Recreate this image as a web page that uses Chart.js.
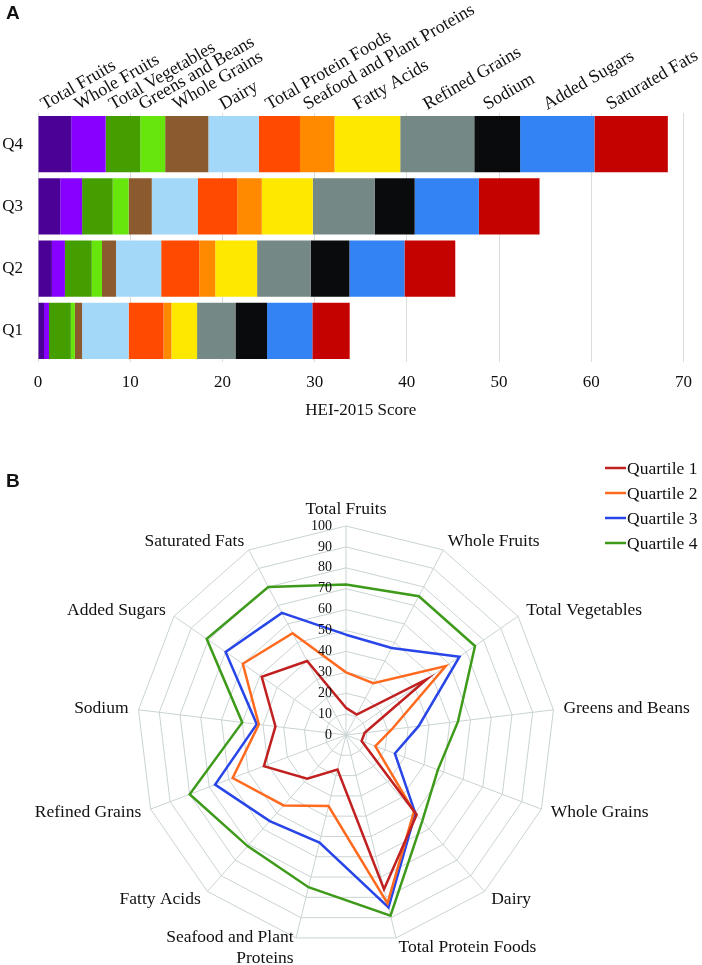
<!DOCTYPE html>
<html lang="en">
<head>
<meta charset="UTF-8" />
<title>HEI-2015 component scores by quartile</title>
<script src="https://cdn.jsdelivr.net/npm/chart.js@4"></script>
<style>
  body { margin: 0; background: #fff; }
  .wrap { position: relative; width: 702px; height: 965px; }
  .panel { position: absolute; left: 0; width: 702px; }
  #barPanel { top: 0; height: 440px; }
  #radarPanel { top: 440px; height: 525px; }
  .tag { position: absolute; left: 6px; font: bold 19px "Liberation Sans", Arial, sans-serif; color: #111; }
</style>
</head>
<body>
<div class="wrap">
  <div class="panel" id="barPanel"><canvas id="barChart"></canvas></div>
  <div class="panel" id="radarPanel"><canvas id="radarChart"></canvas></div>
  <div class="tag" style="top:2px">A</div>
  <div class="tag" style="top:470px">B</div>
</div>

<script>
// ---- panel A: HEI-2015 component scores (rows Q4, Q3, Q2, Q1) ----
const quartiles = ["Q4", "Q3", "Q2", "Q1"];
const xTicks = [0, 10, 20, 30, 40, 50, 60, 70];

const totalFruits      = [3.60, 2.41, 1.51, 0.65];
const wholeFruits      = [3.74, 2.37, 1.41, 0.54];
const totalVegetables  = [3.75, 3.32, 2.91, 2.37];
const greensAndBeans   = [2.70, 1.73, 1.11, 0.44];
const wholeGrains      = [4.68, 2.51, 1.52, 0.78];
const dairy            = [5.48, 5.01, 4.90, 5.05];
const totalProtein     = [4.46, 4.25, 4.13, 3.78];
const seafoodPlant     = [3.74, 2.67, 1.73, 0.86];
const fattyAcids       = [7.13, 5.53, 4.54, 2.78];
const refinedGrains    = [8.03, 6.70, 5.80, 4.16];
const sodium           = [4.97, 4.35, 4.21, 3.43];
const addedSugars      = [8.06, 6.96, 5.97, 4.91];
const saturatedFats    = [7.96, 6.58, 5.51, 4.05];

const components = [
  ["Total Fruits", totalFruits, "#4b0096"],
  ["Whole Fruits", wholeFruits, "#8800ff"],
  ["Total Vegetables", totalVegetables, "#449e00"],
  ["Greens and Beans", greensAndBeans, "#66e60c"],
  ["Whole Grains", wholeGrains, "#8b5a2e"],
  ["Dairy", dairy, "#a3d8f8"],
  ["Total Protein Foods", totalProtein, "#ff4a00"],
  ["Seafood and Plant Proteins", seafoodPlant, "#ff8a00"],
  ["Fatty Acids", fattyAcids, "#ffe800"],
  ["Refined Grains", refinedGrains, "#748886"],
  ["Sodium", sodium, "#0a0b0d"],
  ["Added Sugars", addedSugars, "#3383f5"],
  ["Saturated Fats", saturatedFats, "#c40200"],
];

// ---- panel B: percent of maximum score per component ----
const radarAxes = [
  "Total Fruits", "Whole Fruits", "Total Vegetables", "Greens and Beans",
  "Whole Grains", "Dairy", "Total Protein Foods", ["Seafood and Plant", "Proteins"],
  "Fatty Acids", "Refined Grains", "Sodium", "Added Sugars", "Saturated Fats",
];
const quartile1 = [13, 11, 47, 9, 8, 51, 76, 17, 28, 42, 34, 49, 40];
const quartile2 = [30, 28, 58, 22, 15, 49, 83, 35, 45, 58, 42, 60, 55];
const quartile3 = [48, 47, 66, 35, 25, 50, 85, 53, 55, 67, 43, 70, 66];
const quartile4 = [72, 75, 75, 54, 47, 55, 89, 75, 71, 80, 50, 81, 80];

const SERIF = '"Liberation Serif", "Times New Roman", serif';
const INK = "#111";
Chart.defaults.font.family = SERIF;
Chart.defaults.color = INK;
Chart.defaults.animation = false;

// component names written slanted above the Q4 bar
const segmentLabels = {
  id: "segmentLabels",
  afterDatasetsDraw(chart) {
    const ctx = chart.ctx;
    const top = chart.chartArea.top;
    const slant = Math.PI / 6;
    ctx.save();
    ctx.font = "18px " + SERIF;
    ctx.fillStyle = INK;
    ctx.textAlign = "left";
    ctx.textBaseline = "alphabetic";
    chart.data.datasets.forEach((ds, i) => {
      const bar = chart.getDatasetMeta(i).data[0];
      const mid = (bar.x + bar.base) / 2;
      // keep the slanted text inside the canvas
      const run = ctx.measureText(ds.label).width * Math.cos(slant);
      const x = Math.min(mid - 10, chart.width - run - 3);
      ctx.save();
      ctx.translate(x, top - 3);
      ctx.rotate(-slant);
      ctx.fillText(ds.label, 0, 0);
      ctx.restore();
    });
    ctx.restore();
  },
};

new Chart(document.getElementById("barChart"), {
  type: "bar",
  data: {
    labels: quartiles,
    datasets: components.map(([label, data, color]) => ({
      label,
      data,
      backgroundColor: color,
      borderWidth: 0,
    })),
  },
  options: {
    indexAxis: "y",
    responsive: true,
    maintainAspectRatio: false,
    layout: { padding: { top: 113, right: 16, left: 0, bottom: 0 } },
    categoryPercentage: 1,
    barPercentage: 0.9,
    plugins: { legend: { display: false }, tooltip: { enabled: false } },
    scales: {
      x: {
        stacked: true,
        min: 0,
        max: 70,
        afterBuildTicks: (s) => { s.ticks = xTicks.map((v) => ({ value: v })); },
        afterFit: (s) => { s.height = 78; },
        grid: { color: "#dcdcdc", drawTicks: false },
        border: { display: false },
        ticks: { font: { size: 17 }, padding: 10 },
        title: {
          display: true,
          text: "HEI-2015 Score",
          font: { size: 17 },
          padding: { top: 0, bottom: 19 },
        },
      },
      y: {
        stacked: true,
        afterFit: (s) => { s.width = 38; },
        grid: { display: false, drawTicks: false },
        border: { display: false },
        ticks: { font: { size: 17 }, padding: 15 },
      },
    },
  },
  plugins: [segmentLabels],
});

// axis names, ring values and legend for the radar
const radarText = {
  id: "radarText",
  afterDraw(chart) {
    const r = chart.scales.r;
    const ctx = chart.ctx;
    ctx.save();
    ctx.fillStyle = INK;

    ctx.font = "17.5px " + SERIF;
    const lh = 21;
    radarAxes.forEach((label, i) => {
      const p = r.getPointPosition(i, r.drawingArea + 10);
      const s = Math.sin(r.getIndexAngle(i));
      const lines = [].concat(label);
      if (Math.abs(s) < 0.01) {
        ctx.textAlign = "center";
        ctx.textBaseline = "alphabetic";
        lines.forEach((t, k) => ctx.fillText(t, p.x, p.y - 2 - (lines.length - 1 - k) * lh));
      } else {
        ctx.textAlign = s > 0 ? "left" : "right";
        ctx.textBaseline = "middle";
        const y0 = p.y - ((lines.length - 1) * lh) / 2;
        lines.forEach((t, k) => ctx.fillText(t, p.x, y0 + k * lh));
      }
    });

    ctx.font = "14px " + SERIF;
    ctx.textAlign = "right";
    ctx.textBaseline = "middle";
    r.ticks.forEach((t) => {
      const y = r.yCenter - r.getDistanceFromCenterForValue(t.value);
      ctx.fillText(String(t.value), r.xCenter - 14, y);
    });

    ctx.font = "17.5px " + SERIF;
    ctx.textAlign = "left";
    chart.data.datasets.forEach((ds, k) => {
      const y = 28 + k * 25;
      ctx.strokeStyle = ds.borderColor;
      ctx.lineWidth = 2.5;
      ctx.beginPath();
      ctx.moveTo(605, y);
      ctx.lineTo(626, y);
      ctx.stroke();
      ctx.fillText(ds.label, 627, y + 1);
    });
    ctx.restore();
  },
};

const radarSeries = [
  ["Quartile 1", quartile1, "#c0201f"],
  ["Quartile 2", quartile2, "#ff6a1f"],
  ["Quartile 3", quartile3, "#2845e8"],
  ["Quartile 4", quartile4, "#3e9a1a"],
];

new Chart(document.getElementById("radarChart"), {
  type: "radar",
  data: {
    labels: radarAxes,
    datasets: radarSeries.map(([label, data, color]) => ({
      label,
      data,
      borderColor: color,
      backgroundColor: color,
      borderWidth: 2.5,
      fill: false,
      pointRadius: 0,
      tension: 0,
    })),
  },
  options: {
    responsive: true,
    maintainAspectRatio: false,
    layout: { padding: { left: 137, right: 147, top: 86, bottom: 21 } },
    plugins: { legend: { display: false }, tooltip: { enabled: false } },
    scales: {
      r: {
        min: 0,
        max: 100,
        ticks: { stepSize: 10, display: false },
        grid: { color: "#cad3d3", lineWidth: 1 },
        angleLines: { color: "#cad3d3", lineWidth: 1 },
        pointLabels: { display: false },
      },
    },
  },
  plugins: [radarText],
});
</script>
</body>
</html>
